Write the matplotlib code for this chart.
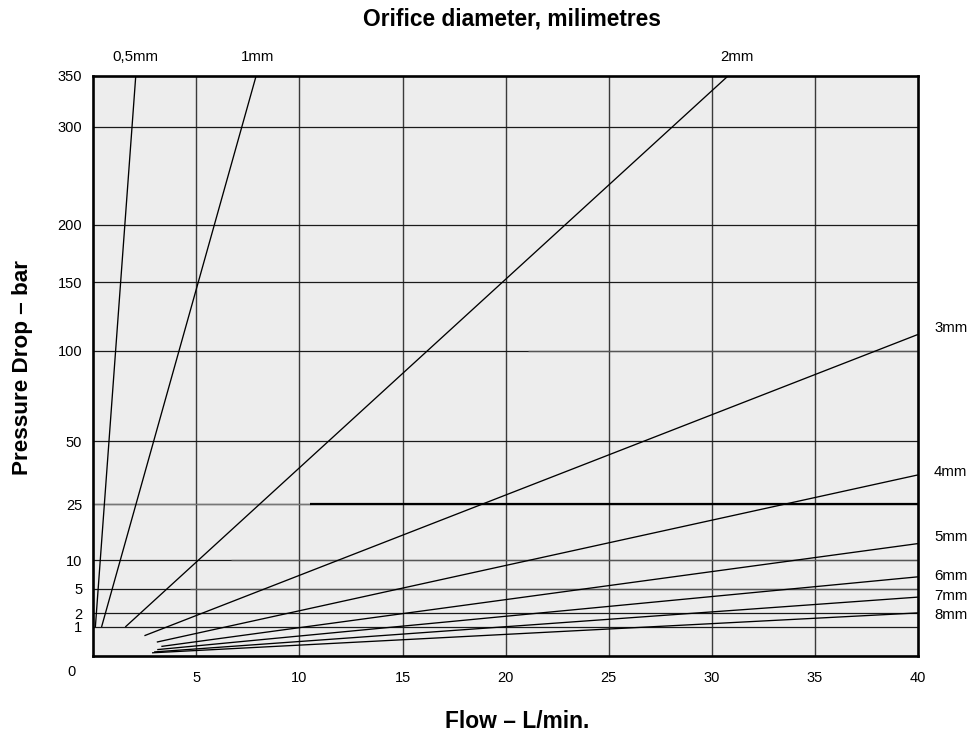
import matplotlib.pyplot as plt
import numpy as np

plt.rcParams['font.family'] = ['Liberation Sans', 'DejaVu Sans']

# y axis of the original sheet is hand drawn: tick value -> height in px above 0
y_ticks = [0, 1, 2, 5, 10, 25, 50, 100, 150, 200, 300, 350]
y_height = [0, 29, 42.7, 67, 96, 152, 214.7, 305, 374, 431.3, 529, 580.3]

x_ticks = [5, 10, 15, 20, 25, 30, 35, 40]

# orifice lines: (flow start, pressure start) -> (flow end, pressure end)
orifice = ['0,5mm', '1mm', '2mm', '3mm', '4mm', '5mm', '6mm', '7mm', '8mm']
flow_start = [0.10, 0.40, 1.55, 2.48, 3.08, 3.30, 3.10, 2.95, 2.85]
drop_start = [1.0, 1.0, 1.0, 0.70, 0.48, 0.33, 0.22, 0.14, 0.11]
flow_end = [2.06, 7.9, 30.8, 40, 40, 40, 40, 40, 40]
drop_end = [350, 350, 350, 112, 36.6, 14.4, 7.1, 4.0, 2.05]


def fwd(v):
    return np.interp(v, y_ticks, y_height)


def inv(v):
    return np.interp(v, y_height, y_ticks)


fig = plt.figure(figsize=(9.78, 7.37), dpi=100)
ax = fig.add_axes([93.3 / 978, 81 / 737, 824.7 / 978, 580.3 / 737])
ax.set_yscale('function', functions=(fwd, inv))
ax.set_xlim(0, 40)
ax.set_ylim(0, 350)
ax.set_facecolor('#ededed')

# grid
for xv in x_ticks[:-1]:
    ax.axvline(xv, color='#3a3a3a', lw=1.0, zorder=1)
for yv in y_ticks[1:-1]:
    ax.axhline(yv, color='#1a1a1a', lw=0.9, zorder=1)
# darker / lighter stretches as on the scanned sheet
ax.hlines(25, 0, 10.5, color='#777777', lw=1.0, zorder=1.5)
ax.hlines(25, 10.5, 40, color='black', lw=1.6, zorder=1.5)
ax.hlines(100, 21.1, 40, color='#555555', lw=0.9, zorder=1.5)
ax.hlines(10, 6.7, 40, color='#555555', lw=0.9, zorder=1.5)
ax.hlines(5, 4.7, 40, color='#555555', lw=0.9, zorder=1.5)

for i in range(len(orifice)):
    ax.plot([flow_start[i], flow_end[i]], [drop_start[i], drop_end[i]],
            color='black', lw=0.95, zorder=3, solid_capstyle='butt')

for s in ax.spines.values():
    s.set_linewidth(1.9)
    s.set_zorder(4)

ax.set_xticks(x_ticks)
ax.set_xticklabels([str(v) for v in x_ticks])
ax.set_yticks(y_ticks[1:])
ax.set_yticklabels([str(v) for v in y_ticks[1:]])
ax.tick_params(length=0, labelsize=10.5, pad=8)
ax.tick_params(axis='x', pad=11)
fig.text(72 / 978, 1 - 672 / 737, '0', ha='center', va='center', fontsize=10.5)

# labels of the orifice lines
for i in range(3):
    xp = [135, 258, 737][i]
    fig.text(xp / 978, 1 - 57 / 737, orifice[i], ha='center', va='center', fontsize=10.8)
for i, yp in zip(range(3, 9), [328, 472, 537, 576, 596, 615]):
    fig.text(934 / 978, 1 - yp / 737, orifice[i], ha='left', va='center', fontsize=10.8)

fig.text(512 / 978, 1 - 19 / 737, 'Orifice diameter, milimetres', ha='center',
         va='center', fontsize=16.4, fontweight='bold')
fig.text(517 / 978, 1 - 722 / 737, 'Flow – L/min.', ha='center', va='center',
         fontsize=16.4, fontweight='bold')
fig.text(23 / 978, 1 - 367 / 737, 'Pressure Drop – bar', ha='center', va='center',
         rotation=90, fontsize=16.2, fontweight='bold')

plt.savefig('out.png', dpi=100)
